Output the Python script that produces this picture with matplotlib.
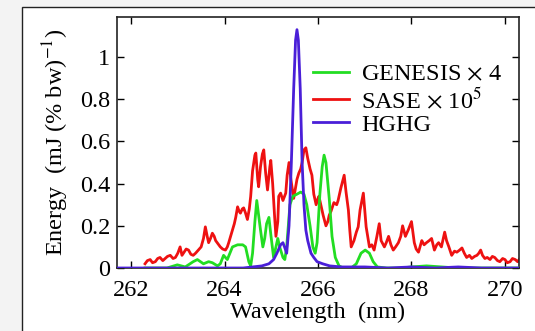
import matplotlib
matplotlib.use('Agg')
import matplotlib.pyplot as plt
from matplotlib.patches import Rectangle

plt.rcParams['font.family'] = ['Liberation Serif', 'DejaVu Serif']
plt.rcParams['mathtext.fontset'] = 'stix'

# SASE spectrum (scaled x 1e5)
sase_wl = [262.30, 262.35, 262.41, 262.46, 262.52, 262.57, 262.62, 262.68, 262.73, 262.78,
           262.84, 262.90, 262.95, 263.00, 263.05, 263.09, 263.12, 263.18, 263.23, 263.28,
           263.33, 263.38, 263.44, 263.50, 263.55, 263.59, 263.63, 263.66, 263.70, 263.74,
           263.78, 263.81, 263.86, 263.91, 263.96, 264.02, 264.06, 264.09, 264.13, 264.17,
           264.21, 264.24, 264.28, 264.31, 264.34, 264.38, 264.41, 264.45, 264.49, 264.53,
           264.56, 264.60, 264.65, 264.67, 264.71, 264.73, 264.77, 264.81, 264.84, 264.88,
           264.92, 264.97, 264.99, 265.03, 265.07, 265.10, 265.14, 265.16, 265.20, 265.25,
           265.31, 265.34, 265.38, 265.42, 265.48, 265.52, 265.55, 265.59, 265.63, 265.66,
           265.70, 265.74, 265.78, 265.83, 265.87, 265.91, 265.96, 266.00, 266.02, 266.06,
           266.11, 266.17, 266.21, 266.24, 266.28, 266.34, 266.40, 266.43, 266.49, 266.56,
           266.60, 266.65, 266.68, 266.71, 266.77, 266.82, 266.86, 266.90, 266.97, 267.03,
           267.07, 267.10, 267.15, 267.20, 267.26, 267.31, 267.35, 267.42, 267.46, 267.51,
           267.56, 267.61, 267.66, 267.72, 267.77, 267.81, 267.87, 267.93, 268.00, 268.06,
           268.10, 268.15, 268.22, 268.27, 268.32, 268.38, 268.43, 268.49, 268.54, 268.58,
           268.64, 268.71, 268.75, 268.80, 268.86, 268.92, 268.97, 269.03, 269.08, 269.13,
           269.18, 269.24, 269.29, 269.35, 269.40, 269.44, 269.48, 269.52, 269.57, 269.62,
           269.68, 269.73, 269.78, 269.84, 269.89, 269.95, 270.00, 270.05, 270.11, 270.16,
           270.22, 270.27, 270.32]
sase_en = [0.02, 0.035, 0.04, 0.025, 0.03, 0.045, 0.05, 0.035, 0.045, 0.055,
           0.06, 0.045, 0.05, 0.07, 0.10, 0.06, 0.07, 0.09, 0.085, 0.065,
           0.06, 0.07, 0.085, 0.10, 0.14, 0.195, 0.15, 0.12, 0.14, 0.165,
           0.15, 0.13, 0.115, 0.10, 0.09, 0.085, 0.10, 0.12, 0.15, 0.18,
           0.21, 0.24, 0.29, 0.27, 0.26, 0.28, 0.285, 0.26, 0.23, 0.28,
           0.34, 0.46, 0.535, 0.545, 0.42, 0.385, 0.48, 0.54, 0.56, 0.45,
           0.37, 0.48, 0.51, 0.40, 0.25, 0.15, 0.22, 0.34, 0.355, 0.32,
           0.355, 0.44, 0.50, 0.42, 0.33, 0.38, 0.42, 0.45, 0.47, 0.50,
           0.56, 0.57, 0.52, 0.47, 0.44, 0.35, 0.30, 0.33, 0.34, 0.30,
           0.25, 0.20, 0.22, 0.25, 0.27, 0.31, 0.30, 0.32, 0.38, 0.44,
           0.36, 0.275, 0.18, 0.10, 0.13, 0.17, 0.195, 0.275, 0.355, 0.195,
           0.14, 0.10, 0.11, 0.085, 0.15, 0.21, 0.13, 0.10, 0.12, 0.15,
           0.11, 0.085, 0.10, 0.12, 0.15, 0.20, 0.15, 0.18, 0.22, 0.12,
           0.09, 0.075, 0.13, 0.11, 0.12, 0.13, 0.14, 0.085, 0.11, 0.12,
           0.10, 0.17, 0.13, 0.10, 0.06, 0.08, 0.075, 0.085, 0.095, 0.07,
           0.05, 0.06, 0.045, 0.055, 0.06, 0.07, 0.085, 0.06, 0.045, 0.05,
           0.04, 0.055, 0.05, 0.035, 0.03, 0.045, 0.04, 0.025, 0.03, 0.045,
           0.04, 0.03, 0.045]

# GENESIS simulation (scaled x 4)
gen_wl = [262.30, 262.77, 262.99, 263.16, 263.33, 263.42, 263.55, 263.66, 263.74, 263.85,
          263.91, 263.98, 264.06, 264.17, 264.28, 264.39, 264.45, 264.52, 264.56, 264.60,
          264.65, 264.69, 264.73, 264.77, 264.82, 264.86, 264.90, 264.95, 264.99, 265.05,
          265.10, 265.14, 265.18, 265.25, 265.29, 265.33, 265.40, 265.46, 265.55, 265.63,
          265.70, 265.76, 265.83, 265.89, 265.94, 265.98, 266.04, 266.09, 266.13, 266.17,
          266.24, 266.30, 266.37, 266.45, 266.54, 266.71, 266.82, 266.92, 267.01, 267.10,
          267.18, 267.27, 267.46, 267.78, 268.00, 268.32, 268.65, 268.97, 270.30]
gen_en = [0.0, 0.0, 0.015, 0.005, 0.03, 0.04, 0.02, 0.03, 0.025, 0.01,
          0.02, 0.06, 0.04, 0.10, 0.11, 0.11, 0.10, 0.03, 0.01, 0.07,
          0.22, 0.32, 0.25, 0.18, 0.10, 0.14, 0.21, 0.24, 0.16, 0.05,
          0.10, 0.14, 0.10, 0.05, 0.04, 0.10, 0.30, 0.34, 0.35, 0.36,
          0.35, 0.30, 0.20, 0.10, 0.07, 0.12, 0.35, 0.48, 0.535, 0.50,
          0.33, 0.15, 0.05, 0.01, 0.0, 0.0, 0.02, 0.07, 0.085, 0.07,
          0.03, 0.005, 0.0, 0.0, 0.005, 0.01, 0.005, 0.0, 0.0]

# HGHG spectrum
hghg_wl = [261.70, 264.40, 264.60, 264.80, 264.95, 265.05, 265.12, 265.20, 265.25, 265.30,
           265.33, 265.38, 265.43, 265.48, 265.52, 265.55, 265.58, 265.62, 265.66, 265.70,
           265.74, 265.78, 265.85, 265.91, 265.98, 266.10, 266.25, 266.50, 267.00, 267.50,
           268.00, 268.50, 269.00, 269.50, 270.30]
hghg_en = [0.0, 0.0, 0.005, 0.01, 0.02, 0.04, 0.07, 0.11, 0.12, 0.09,
           0.07, 0.20, 0.50, 0.85, 1.08, 1.13, 1.08, 0.85, 0.50, 0.30,
           0.18, 0.13, 0.07, 0.05, 0.03, 0.02, 0.01, 0.005, 0.005, 0.0,
           0.005, 0.0, 0.005, 0.0, 0.0]

labels = ['GENESIS $\\times$ 4', 'SASE $\\times$ 10$^5$', 'HGHG']
xticks = [262, 264, 266, 268, 270]
yticks = [0, 0.2, 0.4, 0.6, 0.8, 1]

fs = 17.5

fig = plt.figure(figsize=(5.35, 3.31), dpi=100, facecolor='#f3f3f3')
# white panel with a thin frame behind the axes
fig.patches.append(Rectangle((22/535, -0.05), 1.0, 0.05 + 1 - 7/331, transform=fig.transFigure,
                             facecolor='white', edgecolor='#222222', linewidth=1.0, zorder=-5))

ax = fig.add_axes([117/535, 1 - 268/331, 402/535, 251/331])
l_sase, = ax.plot(sase_wl, sase_en, color='#ee1111', lw=2.0, zorder=2)
l_gen, = ax.plot(gen_wl, gen_en, color='#22dd22', lw=2.0, zorder=3)
l_hghg, = ax.plot(hghg_wl, hghg_en, color='#4a1fd8', lw=2.0, zorder=4)

ax.set_xlim(261.7, 270.3)
ax.set_ylim(0, 1.19)
ax.set_xticks(xticks)
ax.set_yticks(yticks)
ax.set_yticklabels(['%g' % t for t in yticks])
ax.tick_params(direction='in', top=True, right=True, length=5, width=1,
               labelsize=fs)
ax.tick_params(axis='x', pad=9)
ax.tick_params(axis='y', pad=5)
for s in ax.spines.values():
    s.set_linewidth(1.2)
    s.set_color('#222222')

ax.set_xlabel('Wavelength  (nm)', fontsize=fs, labelpad=0)
ax.set_ylabel('Energy  (mJ (% bw)$^{-1}$)', fontsize=fs, labelpad=6)

ax.legend([l_gen, l_sase, l_hghg], labels, loc='upper left', bbox_to_anchor=(0.487, 0.815),
          frameon=False, fontsize=fs, handlelength=1.5, handletextpad=0.5,
          labelspacing=0.05, borderpad=0, borderaxespad=0)

fig.savefig('out.png', dpi=100, facecolor=fig.get_facecolor())
